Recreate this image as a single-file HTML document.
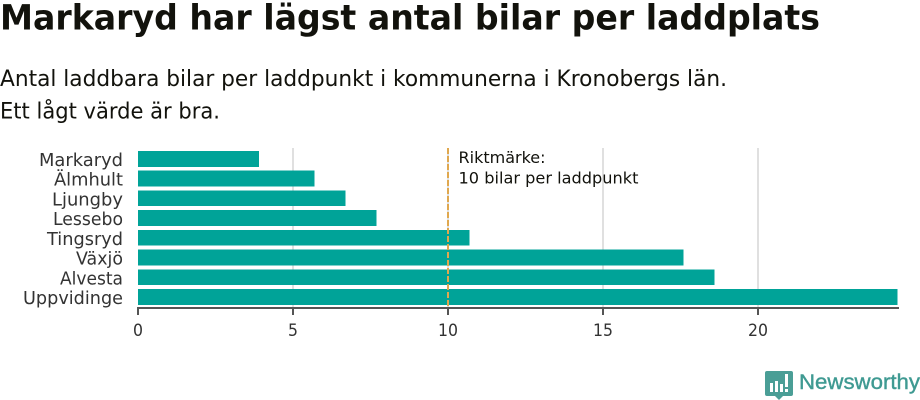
<!DOCTYPE html>
<html lang="sv">
<head>
<meta charset="utf-8">
<title>Markaryd har lägst antal bilar per laddplats</title>
<style>
html,body{margin:0;padding:0;background:#fff;width:920px;height:400px;overflow:hidden}
svg{display:block;font-family:"DejaVu Sans","Liberation Sans",sans-serif}
</style>
</head>
<body>
<svg id="chart" width="920" height="400" viewBox="0 0 920 400" xmlns="http://www.w3.org/2000/svg">
<text x="0" y="29.5" font-size="35" font-weight="700" fill="#12120c" textLength="820" lengthAdjust="spacingAndGlyphs">Markaryd har lägst antal bilar per laddplats</text>
<text x="0" y="86" font-size="22.5" fill="#12120c" textLength="727" lengthAdjust="spacingAndGlyphs">Antal laddbara bilar per laddpunkt i kommunerna i Kronobergs län.</text>
<text x="0" y="118.5" font-size="22.5" fill="#12120c" textLength="220" lengthAdjust="spacingAndGlyphs">Ett lågt värde är bra.</text>
<g id="grid"></g>
<g id="bars"></g>
<g id="labels"></g>
<g id="axis"></g>
<g id="ref"></g>
<g>
<path d="M767 371h24a2 2 0 0 1 2 2v21a2 2 0 0 1-2 2h-8l-4 4-4-4h-8a2 2 0 0 1-2-2v-21a2 2 0 0 1 2-2z" fill="#4a9e96"/>
<rect x="770" y="383" width="3" height="9" fill="#fff"/>
<rect x="775" y="381" width="3" height="11" fill="#fff"/>
<rect x="780" y="384" width="3" height="8" fill="#fff"/>
<rect x="785" y="374" width="3" height="13" fill="#fff"/>
<rect x="785" y="389" width="3" height="3" fill="#fff"/>
<text x="799" y="389" font-family="'Liberation Sans',sans-serif" font-size="21" fill="#3f9a92" stroke="#3f9a92" stroke-width="0.4" textLength="121" lengthAdjust="spacingAndGlyphs">Newsworthy</text>
</g>
</svg>
<script>
const categories = ["Markaryd","Älmhult","Ljungby","Lessebo","Tingsryd","Växjö","Alvesta","Uppvidinge"];
const values = [3.9,5.7,6.7,7.7,10.7,17.6,18.6,24.5];
const xTicks = [0,5,10,15,20];
const benchmark = 10;
const benchmarkLines = ["Riktmärke:","10 bilar per laddpunkt"];
const labelWidths = [84,69,71,70,76,47,63,100];

const NS = "http://www.w3.org/2000/svg";
const plotLeft = 138, plotRight = 898, plotTop = 148, plotBottom = 308;
const domainMax = 24.516;
const xScale = v => plotLeft + (v / domainMax) * (plotRight - plotLeft);
const bandStep = 19.72, bandStart = 151, barH = 15.8;
const yScale = i => bandStart + i * bandStep;
function mk(tag, attrs, parent, txt){
  const e = document.createElementNS(NS, tag);
  for (const k in attrs) e.setAttribute(k, attrs[k]);
  if (txt !== undefined) e.textContent = txt;
  document.getElementById(parent).appendChild(e);
  return e;
}
xTicks.forEach(t => {
  if (t > 0) {
    const g = mk("line", {x1:xScale(t),x2:xScale(t),y1:plotTop,y2:plotBottom,stroke:"#e0e0e0","stroke-width":2}, "grid");
    
    
  }
  const m = mk("line", {x1:xScale(t),x2:xScale(t),y1:plotBottom,y2:plotBottom+7,stroke:"#555","stroke-width":2}, "axis");
  
  
  const l = mk("text", {x:xScale(t),y:plotBottom+28,"text-anchor":"middle","font-size":17,fill:"#333"}, "axis", String(t));
  
  
  l.setAttribute('textLength', String(String(t).length * 10));
  l.setAttribute('lengthAdjust', 'spacingAndGlyphs');
});
const dom = mk("line", {x1:plotLeft-1,x2:plotRight+1,y1:plotBottom,y2:plotBottom,stroke:"#555","stroke-width":2}, "axis");


categories.forEach((c,i) => {
  const b = mk("rect", {x:plotLeft,y:yScale(i),width:xScale(values[i])-plotLeft,height:barH,fill:"#00a398","shape-rendering":"crispEdges"}, "bars");
  
  
  const l = mk("text", {x:123,y:yScale(i)+15,"text-anchor":"end","font-size":17.5,fill:"#333"}, "labels", c);
  
  
  l.setAttribute('textLength', String(labelWidths[i]));
  l.setAttribute('lengthAdjust', 'spacingAndGlyphs');
});
const r = mk("line", {x1:xScale(benchmark),x2:xScale(benchmark),y1:plotTop,y2:plotBottom,stroke:"#e0a84f","stroke-width":2,"stroke-dasharray":"6 2"}, "ref");


benchmarkLines.forEach((t,i) => {
  const a = mk("text", {x:xScale(benchmark)+10.5,y:163+i*20.5,"font-size":16,fill:"#12120c"}, "ref", t);
  
  
  a.setAttribute('textLength', i === 0 ? '87' : '180');
  a.setAttribute('lengthAdjust', 'spacingAndGlyphs');
});
</script>
</body>
</html>
